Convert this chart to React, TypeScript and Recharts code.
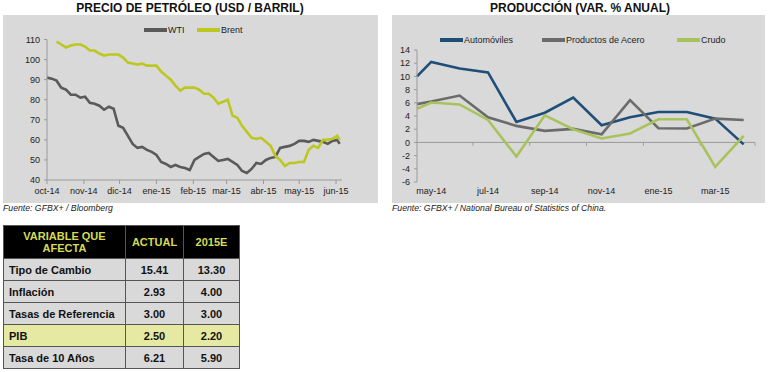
import React from 'react';
import { LineChart, Line, XAxis, YAxis, ReferenceLine } from 'recharts';

// ---- Precio de petróleo (USD / barril) ----
const oilDates = [
  '2014-10-01', '2014-10-05', '2014-10-09', '2014-10-13', '2014-10-17', '2014-10-21', '2014-10-25', '2014-10-29',
  '2014-11-02', '2014-11-06', '2014-11-10', '2014-11-14', '2014-11-18', '2014-11-22', '2014-11-26', '2014-11-30',
  '2014-12-04', '2014-12-08', '2014-12-12', '2014-12-16', '2014-12-20', '2014-12-24', '2014-12-28',
  '2015-01-01', '2015-01-05', '2015-01-09', '2015-01-13', '2015-01-17', '2015-01-21', '2015-01-25', '2015-01-29',
  '2015-02-02', '2015-02-06', '2015-02-10', '2015-02-14', '2015-02-18', '2015-02-22', '2015-02-26',
  '2015-03-02', '2015-03-06', '2015-03-10', '2015-03-14', '2015-03-18', '2015-03-22', '2015-03-26', '2015-03-30',
  '2015-04-03', '2015-04-07', '2015-04-11', '2015-04-15', '2015-04-19', '2015-04-23', '2015-04-27',
  '2015-05-01', '2015-05-05', '2015-05-09', '2015-05-13', '2015-05-17', '2015-05-21', '2015-05-25', '2015-05-29',
  '2015-06-02', '2015-06-04',
];
const wti = [
  91, 90.5, 89.5, 86, 85, 82.5, 82.5, 81,
  81.5, 78.5, 78, 77, 75, 76.5, 75.5, 67,
  66, 62, 58, 56, 56.5, 55, 54,
  52.5, 49, 48, 46.5, 47.5, 46.5, 46, 45,
  50, 51.5, 53, 53.5, 51.5, 49.5, 50,
  50.5, 49, 47.5, 44.5, 43.5, 45.5, 48.5, 48,
  50, 51, 51.5, 56, 56.5, 57, 58,
  59.5, 59.5, 59, 60, 59.5, 59, 58, 59.5,
  60, 58,
];
const brent = [
  null, null, 109, 107.5, 106, 107, 107.5, 107.5,
  106.5, 104.5, 104.5, 103, 102, 102.5, 102.5, 102.5,
  101, 98.5, 98, 97.5, 98, 97, 97,
  97, 94, 92, 90, 87, 84.5, 86, 86,
  86, 85, 83, 83, 81, 78, 79,
  80, 72, 71, 67, 64, 61, 60.5, 61,
  59, 57, 52, 50, 47, 48.5, 48.5,
  49, 49, 55, 57, 56, 60, 60, 60.5,
  62, 60,
];
const oilTickDates = [
  '2014-10-01', '2014-11-01', '2014-12-01', '2015-01-01', '2015-02-01',
  '2015-03-01', '2015-04-01', '2015-05-01', '2015-06-01',
];
const oilTickLabels = ['oct-14', 'nov-14', 'dic-14', 'ene-15', 'feb-15', 'mar-15', 'abr-15', 'may-15', 'jun-15'];
const oilYTicks = [40, 50, 60, 70, 80, 90, 100, 110];

// ---- Producción (var. % anual) ----
const prodMonths = ['abr-14', 'may-14', 'jun-14', 'jul-14', 'ago-14', 'sep-14', 'oct-14', 'nov-14', 'dic-14', 'ene-15', 'feb-15', 'mar-15', 'abr-15'];
const prodPos = [0.5, 1, 2, 3, 4, 5, 6, 7, 8, 9, 10, 11, 12];
const automoviles = [10, 12.2, 11.2, 10.6, 3.1, 4.5, 6.8, 2.6, 3.8, 4.6, 4.6, 3.6, -0.3];
const acero = [5.8, 6.2, 7.1, 3.8, 2.5, 1.75, 2.05, 1.24, 6.4, 2.15, 2.1, 3.6, 3.4];
const crudo = [5.1, 6.05, 5.75, 3.4, -2.15, 4.1, 2.0, 0.6, 1.35, 3.5, 3.5, -3.7, 1.0];
const prodTickPos = [1, 3, 5, 7, 9, 11];
const prodTickLabels = ['may-14', 'jul-14', 'sep-14', 'nov-14', 'ene-15', 'mar-15'];
const prodMarkPos = [2.47, 4.47, 6.47, 8.47, 10.47, 12.4];
const prodYTicks = [-6, -4, -2, 0, 2, 4, 6, 8, 10, 12, 14];

// ---- Tabla ----
const tableVars = ['Tipo de Cambio', 'Inflación', 'Tasas de Referencia', 'PIB', 'Tasa de 10 Años'];
const tableActual = ['15.41', '2.93', '3.00', '2.50', '6.21'];
const table2015 = ['13.30', '4.00', '3.00', '2.20', '5.90'];

const FONT = '"Liberation Sans", Arial, sans-serif';
const BG = '#d9d9d9';
const AXIS = '#9a9a9a';

const dayOf = (d: string) => (Date.parse(d) - Date.parse('2014-10-01')) / 86400000;

const oilData = oilDates.map((d, i) => ({ day: dayOf(d), wti: wti[i], brent: brent[i] }));
const oilTicks = oilTickDates.map(dayOf);
const prodData = prodMonths.map((m, i) => ({
  pos: prodPos[i],
  month: m,
  automoviles: automoviles[i],
  acero: acero[i],
  crudo: crudo[i],
}));

const tickStyle = { fontSize: 9, fontFamily: FONT, fill: '#222' };

function LegendItem({ x, y, color, label }: { x: number; y: number; color: string; label: string }) {
  return (
    <div style={{ position: 'absolute', left: x, top: y - 6, height: 12, display: 'flex', alignItems: 'center' }}>
      <div style={{ width: 23, height: 4, background: color }} />
      <span style={{ fontSize: 9, fontFamily: FONT, color: '#222', marginLeft: 1 }}>{label}</span>
    </div>
  );
}

function Title({ cx, text }: { cx: number; text: string }) {
  return (
    <div
      style={{
        position: 'absolute',
        left: cx - 150,
        width: 300,
        top: 1,
        textAlign: 'center',
        fontFamily: FONT,
        fontWeight: 'bold',
        fontSize: 12,
        color: '#111',
      }}
    >
      {text}
    </div>
  );
}

function Source({ x, text }: { x: number; text: string }) {
  return (
    <div
      style={{
        position: 'absolute',
        left: x,
        top: 203,
        fontFamily: FONT,
        fontStyle: 'italic',
        fontSize: 8.7,
        color: '#222',
      }}
    >
      {text}
    </div>
  );
}

function OilChart() {
  return (
    <div style={{ position: 'absolute', left: 3, top: 15, width: 375, height: 188, background: BG }}>
      <LineChart width={375} height={188} data={oilData} margin={{ top: 24.5, right: 36, left: 0, bottom: 3 }}>
        <XAxis
          dataKey="day"
          type="number"
          domain={[0, 248]}
          ticks={oilTicks}
          tickFormatter={(v: number) => oilTickLabels[oilTicks.indexOf(v)]}
          stroke={AXIS}
          tick={tickStyle}
          tickSize={4}
          tickMargin={4}
          height={20}
          interval={0}
        />
        <YAxis
          domain={[40, 110]}
          ticks={oilYTicks}
          stroke={AXIS}
          tick={tickStyle}
          tickSize={3}
          tickMargin={4}
          width={44}
          interval={0}
        />
        <Line dataKey="wti" stroke="#5a5a5a" strokeWidth={2.6} dot={false} isAnimationActive={false} />
        <Line dataKey="brent" stroke="#bcc71f" strokeWidth={2.6} dot={false} isAnimationActive={false} />
      </LineChart>
      <LegendItem x={141} y={15} color="#5a5a5a" label="WTI" />
      <LegendItem x={194} y={15} color="#bcc71f" label="Brent" />
    </div>
  );
}

function ProdChart() {
  return (
    <div style={{ position: 'absolute', left: 392, top: 15, width: 373, height: 188, background: BG }}>
      <LineChart width={373} height={188} data={prodData} margin={{ top: 35, right: 10, left: 0, bottom: 1 }}>
        <XAxis
          dataKey="pos"
          type="number"
          domain={[0.5, 12.4]}
          ticks={prodTickPos}
          tickFormatter={(v: number) => prodTickLabels[prodTickPos.indexOf(v)]}
          axisLine={false}
          tickLine={false}
          tick={tickStyle}
          tickSize={0}
          tickMargin={6}
          height={20}
          interval={0}
        />
        <YAxis
          domain={[-6, 14]}
          ticks={prodYTicks}
          stroke={AXIS}
          tick={tickStyle}
          tickSize={3}
          tickMargin={4}
          width={25}
          interval={0}
        />
        <ReferenceLine y={0} stroke={AXIS} />
        {prodMarkPos.map((p) => (
          <ReferenceLine
            key={p}
            segment={[
              { x: p, y: 0 },
              { x: p, y: -0.5 },
            ]}
            stroke={AXIS}
          />
        ))}
        <Line dataKey="automoviles" stroke="#1f4e79" strokeWidth={2.6} dot={false} isAnimationActive={false} />
        <Line dataKey="acero" stroke="#6b6b6b" strokeWidth={2.6} dot={false} isAnimationActive={false} />
        <Line dataKey="crudo" stroke="#a8c35c" strokeWidth={2.6} dot={false} isAnimationActive={false} />
      </LineChart>
      <LegendItem x={48} y={25} color="#1f4e79" label="Automóviles" />
      <LegendItem x={150} y={25} color="#6b6b6b" label="Productos de Acero" />
      <LegendItem x={285} y={25} color="#a8c35c" label="Crudo" />
    </div>
  );
}

function VarTable() {
  const cell: React.CSSProperties = {
    border: '1px solid #555',
    fontFamily: FONT,
    fontWeight: 'bold',
    fontSize: 11,
    color: '#111',
    padding: 0,
    height: 21,
  };
  const head: React.CSSProperties = {
    ...cell,
    background: '#000',
    color: '#d4dc55',
    textAlign: 'center',
    height: 32,
    lineHeight: '12px',
  };
  return (
    <table
      style={{
        position: 'absolute',
        left: 3,
        top: 225,
        width: 236,
        borderCollapse: 'collapse',
        tableLayout: 'fixed',
      }}
    >
      <colgroup>
        <col style={{ width: 122 }} />
        <col style={{ width: 58 }} />
        <col style={{ width: 56 }} />
      </colgroup>
      <thead>
        <tr>
          <th style={head}>
            VARIABLE QUE
            <br />
            AFECTA
          </th>
          <th style={head}>ACTUAL</th>
          <th style={head}>2015E</th>
        </tr>
      </thead>
      <tbody>
        {tableVars.map((v, i) => {
          const bg = v === 'PIB' ? '#e6e9a2' : BG;
          return (
            <tr key={v}>
              <td style={{ ...cell, background: bg, paddingLeft: 5 }}>{v}</td>
              <td style={{ ...cell, background: bg, textAlign: 'center' }}>{tableActual[i]}</td>
              <td style={{ ...cell, background: bg, textAlign: 'center' }}>{table2015[i]}</td>
            </tr>
          );
        })}
      </tbody>
    </table>
  );
}

export default function App() {
  return (
    <div style={{ position: 'absolute', left: 0, top: 0, width: 771, height: 372, background: '#fff', overflow: 'hidden' }}>
      <Title cx={190} text="PRECIO DE PETRÓLEO (USD / BARRIL)" />
      <Title cx={580} text="PRODUCCIÓN (VAR. % ANUAL)" />
      <OilChart />
      <ProdChart />
      <Source x={3} text="Fuente: GFBX+ / Bloomberg" />
      <Source x={392} text="Fuente: GFBX+ / National Bureau of Statistics of China." />
      <VarTable />
    </div>
  );
}
